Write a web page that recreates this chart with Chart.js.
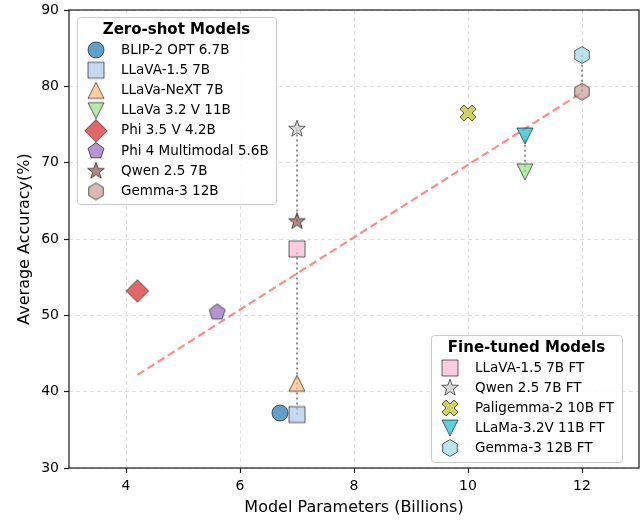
<!DOCTYPE html>
<html>
<head>
<meta charset="utf-8">
<script src="https://cdn.jsdelivr.net/npm/chart.js@4.4.1/dist/chart.umd.min.js"></script>
<style>
  body { margin: 0; background: #fff; }
  #wrap { width: 641px; height: 520px; }
</style>
</head>
<body>
<div id="wrap"><canvas id="myDiagram" width="641" height="520"></canvas></div>
<script>
// zero-shot models
const zsNames = ['BLIP-2 OPT 6.7B', 'LLaVA-1.5 7B', 'LLaVa-NeXT 7B', 'LLaVa 3.2 V 11B',
                 'Phi 3.5 V 4.2B', 'Phi 4 Multimodal 5.6B', 'Qwen 2.5 7B', 'Gemma-3 12B'];
const zsParams = [6.7, 7, 7, 11, 4.2, 5.6, 7, 12];
const zsAcc = [37.2, 37.0, 41.1, 68.8, 53.2, 50.4, 62.3, 79.3];

// fine-tuned models
const ftNames = ['LLaVA-1.5 7B FT', 'Qwen 2.5 7B FT', 'Paligemma-2 10B FT', 'LLaMa-3.2V 11B FT', 'Gemma-3 12B FT'];
const ftParams = [7, 7, 10, 11, 12];
const ftAcc = [58.7, 74.4, 76.5, 73.5, 84.1];

// base model (index in zero-shot list) for each fine-tuned model, -1 = none
const ftBase = [1, 6, -1, 3, 7];

// trend line end points
const trendX = [4.2, 12];
const trendY = [42.2, 79.2];

const xTicks = [4, 6, 8, 10, 12];
const yTicks = [30, 40, 50, 60, 70, 80, 90];

const zsShapes = ['circle', 'square', 'triUp', 'triDown', 'diamond', 'pentagon', 'star', 'hexagon'];
const zsColors = ['rgba(31,119,180,0.7)', 'rgba(174,199,232,0.7)', 'rgba(255,187,120,0.7)', 'rgba(152,223,138,0.7)',
                  'rgba(214,39,40,0.7)', 'rgba(148,103,189,0.7)', 'rgba(140,86,75,0.7)', 'rgba(196,156,148,0.7)'];
const ftShapes = ['square', 'star', 'xfill', 'triDown', 'hexagon'];
const ftColors = ['rgba(247,182,210,0.7)', 'rgba(199,199,199,0.7)', 'rgba(188,189,34,0.7)',
                  'rgba(23,190,207,0.7)', 'rgba(158,218,229,0.7)'];

const FONT = 'DejaVu Sans';

function polyPath(c, pts) {
    c.beginPath();
    pts.forEach((p, i) => i ? c.lineTo(p[0], p[1]) : c.moveTo(p[0], p[1]));
    c.closePath();
}

function regular(n, r, rot) {
    const pts = [];
    for (let i = 0; i < n; i++) {
        const a = rot + i * 2 * Math.PI / n;
        pts.push([Math.sin(a) * r, -Math.cos(a) * r]);
    }
    return pts;
}

// marker images, drawn once and handed to chart.js as pointStyle
function makeMarker(shape, fill) {
    const S = 28, h = S / 2, r = 8;
    const cv = document.createElement('canvas');
    cv.width = S; cv.height = S;
    const c = cv.getContext('2d');
    c.translate(h, h);
    let pts = null;
    if (shape === 'circle') {
        c.beginPath(); c.arc(0, 0, r, 0, Math.PI * 2);
    } else if (shape === 'square') {
        pts = [[-r, -r], [r, -r], [r, r], [-r, r]];
    } else if (shape === 'triUp') {
        pts = [[0, -r], [r, r], [-r, r]];
    } else if (shape === 'triDown') {
        pts = [[0, r], [r, -r], [-r, -r]];
    } else if (shape === 'diamond') {
        const d = r * 1.41;
        pts = [[0, -d], [d, 0], [0, d], [-d, 0]];
    } else if (shape === 'pentagon') {
        pts = regular(5, r * 1.05, 0);
    } else if (shape === 'hexagon') {
        pts = regular(6, r * 1.05, 0);
    } else if (shape === 'star') {
        const o = regular(5, r * 1.1, 0), inn = regular(5, r * 0.45, Math.PI / 5);
        pts = [];
        for (let i = 0; i < 5; i++) { pts.push(o[i]); pts.push(inn[i]); }
    } else if (shape === 'xfill') {
        const k = r / 2;
        pts = [[-1, -2], [0, -1], [1, -2], [2, -1], [1, 0], [2, 1], [1, 2], [0, 1], [-1, 2], [-2, 1], [-1, 0], [-2, -1]]
            .map(p => [p[0] * k, p[1] * k]);
    }
    if (pts) polyPath(c, pts);
    c.fillStyle = fill;
    c.fill();
    c.lineWidth = 1;
    c.strokeStyle = 'rgba(0,0,0,0.6)';
    c.stroke();
    return cv;
}

const zsMarkers = zsShapes.map((s, i) => makeMarker(s, zsColors[i]));
const ftMarkers = ftShapes.map((s, i) => makeMarker(s, ftColors[i]));

const datasets = [];

// dotted connectors between base and fine-tuned model
ftBase.forEach((b, i) => {
    if (b < 0) return;
    datasets.push({
        type: 'line',
        data: [{x: zsParams[b], y: zsAcc[b]}, {x: ftParams[i], y: ftAcc[i]}],
        borderColor: 'rgba(128,128,128,0.85)',
        borderWidth: 2,
        borderDash: [2, 3],
        pointRadius: 0,
        fill: false,
        order: 10
    });
});

datasets.push({
    type: 'line',
    data: trendX.map((x, i) => ({x: x, y: trendY[i]})),
    borderColor: 'rgba(255,90,90,0.7)',
    borderWidth: 2.2,
    borderDash: [8, 4],
    pointRadius: 0,
    fill: false,
    order: 9
});

zsNames.forEach((n, i) => {
    datasets.push({
        label: n,
        data: [{x: zsParams[i], y: zsAcc[i]}],
        pointStyle: zsMarkers[i],
        pointRadius: 9,
        order: 1
    });
});
ftNames.forEach((n, i) => {
    datasets.push({
        label: n,
        data: [{x: ftParams[i], y: ftAcc[i]}],
        pointStyle: ftMarkers[i],
        pointRadius: 9,
        order: 1
    });
});

function drawLegend(c, title, names, markers, box) {
    c.save();
    c.fillStyle = 'rgba(255,255,255,0.85)';
    c.strokeStyle = '#cccccc';
    c.lineWidth = 1;
    c.beginPath();
    c.roundRect(box.x + 0.5, box.y + 0.5, box.w, box.h, 3);
    c.fill();
    c.stroke();
    c.fillStyle = '#000';
    c.textBaseline = 'middle';
    c.textAlign = 'center';
    c.font = 'bold 15px "' + FONT + '"';
    c.fillText(title, box.x + box.w / 2, box.y + 13);
    c.textAlign = 'left';
    c.font = '13.5px "' + FONT + '"';
    names.forEach((n, i) => {
        const y = box.y + 33 + i * box.step;
        c.drawImage(markers[i], box.mx - 14, y - 14);
        c.fillText(n, box.tx, y);
    });
    c.restore();
}

const extras = {
    id: 'extras',
    afterDraw(chart) {
        const c = chart.ctx, a = chart.chartArea;
        c.save();
        c.strokeStyle = '#222';
        c.lineWidth = 1.25;
        c.strokeRect(a.left, a.top, a.right - a.left, a.bottom - a.top);
        c.restore();
        drawLegend(c, 'Zero-shot Models', zsNames, zsMarkers,
            {x: 77, y: 17, w: 199, h: 187, step: 20.2, mx: 96, tx: 121});
        drawLegend(c, 'Fine-tuned Models', ftNames, ftMarkers,
            {x: 431, y: 335, w: 191, h: 127, step: 20, mx: 450, tx: 475});
    }
};

const ctx = document.getElementById('myDiagram').getContext('2d');
const myChart = new Chart(ctx, {
    type: 'scatter',
    data: { datasets: datasets },
    plugins: [extras],
    options: {
        responsive: false,
        animation: false,
        layout: { autoPadding: false, padding: { top: 10, right: 2, left: 0, bottom: 0 } },
        plugins: {
            legend: { display: false },
            tooltip: { enabled: false }
        },
        scales: {
            x: {
                type: 'linear',
                min: 3, max: 13,
                afterBuildTicks: (s) => { s.ticks = xTicks.map(v => ({value: v})); },
                afterFit: (s) => { s.height = 52; s.paddingLeft = 0; s.paddingRight = 0; },
                grid: { color: 'rgba(0,0,0,0.12)', tickColor: '#222', tickLength: 5, tickWidth: 1.2 },
                border: { display: false, dash: [4, 3] },
                ticks: { color: '#000', padding: 5, font: { family: FONT, size: 14 } },
                title: { display: true, text: 'Model Parameters (Billions)', color: '#000',
                         padding: { top: 0, bottom: 3 }, font: { family: FONT, size: 16 } }
            },
            y: {
                type: 'linear',
                min: 30, max: 90,
                afterBuildTicks: (s) => { s.ticks = yTicks.map(v => ({value: v})); },
                afterFit: (s) => { s.width = 69; s.paddingTop = 0; s.paddingBottom = 0; },
                grid: { color: 'rgba(0,0,0,0.12)', tickColor: '#222', tickLength: 5, tickWidth: 1.2 },
                border: { display: false, dash: [4, 3] },
                ticks: { color: '#000', padding: 5, font: { family: FONT, size: 14 } },
                title: { display: true, text: 'Average Accuracy(%)', color: '#000',
                         padding: { top: 15, bottom: 0 }, font: { family: FONT, size: 16 } }
            }
        }
    }
});
</script>
</body>
</html>
